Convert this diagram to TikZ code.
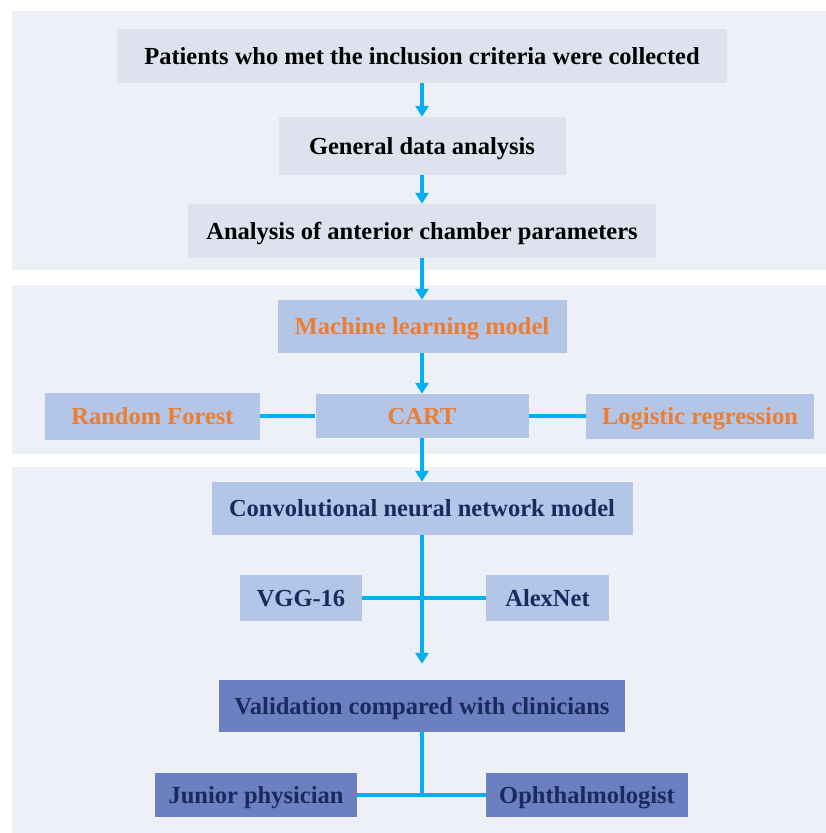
\documentclass[tikz,border=0pt]{standalone}
\usepackage{fontspec}
\setmainfont{Liberation Serif}
\usepackage{xcolor}
\usetikzlibrary{arrows.meta, positioning}

\definecolor{panelbg}{HTML}{EDF0F7}
\definecolor{paleblue}{HTML}{DEE2EF}
\definecolor{midblue}{HTML}{B4C6E7}
\definecolor{darkblue}{HTML}{6C7FC0}
\definecolor{navy}{HTML}{1B2A5E}
\definecolor{orangetxt}{HTML}{ED7D31}
\definecolor{arrowblue}{HTML}{00B0F0}

\begin{document}
\begin{tikzpicture}[x=1pt, y=-1pt,
            panel/.style={fill=panelbg, draw=none},
            box/.style={rectangle, draw=none, inner sep=0pt, align=center, text height=18pt, text depth=2pt, font=\fontsize{24.5}{28}\selectfont\bfseries},
            stepone/.style={box, fill=paleblue, text=black},
            steptwo/.style={box, fill=midblue, text=orangetxt},
            stepthree/.style={box, fill=midblue, text=navy},
            stepfour/.style={box, fill=darkblue, text=navy},
            flow/.style={draw=arrowblue, line width=3.5pt, -{Triangle[width=13pt,length=11pt]}},
            link/.style={draw=arrowblue, line width=3.5pt}
        ]
\useasboundingbox (0,0) rectangle (826,833);

% Panels
            \fill[panel] (12,11) rectangle (826,270);
            \fill[panel] (12,285) rectangle (826,454);
            \fill[panel] (12,467) rectangle (826,833);

% Data collection
            \node[stepone, minimum width=610, minimum height=54] (patients) at (422,56) {Patients who met the inclusion criteria were collected};
            \node[stepone, minimum width=287, minimum height=58] (general) at (422,146) {General data analysis};
            \node[stepone, minimum width=468, minimum height=54] (chamber) at (422,231) {Analysis of anterior chamber parameters};

% Machine learning
            \node[steptwo, minimum width=289, minimum height=53] (ml) at (422,326.5) {Machine learning model};
            \node[steptwo, minimum width=213, minimum height=44] (cart) at (422,416) {CART};
            \node[steptwo, minimum width=215, minimum height=47] (forest) at (152.5,416) {Random Forest};
            \node[steptwo, minimum width=228, minimum height=45] (logistic) at (700,416) {Logistic regression};

% Deep learning
            \node[stepthree, minimum width=421, minimum height=53] (cnn) at (422,508.5) {Convolutional neural network model};
            \node[stepthree, minimum width=122, minimum height=46] (vgg) at (301,598) {VGG-16};
            \node[stepthree, minimum width=123, minimum height=46] (alexnet) at (547.5,598) {AlexNet};

% Validation
            \node[stepfour, minimum width=406, minimum height=52] (valid) at (422,706) {Validation compared with clinicians};
            \node[stepfour, minimum width=202, minimum height=44] (junior) at (256,795) {Junior physician};
            \node[stepfour, minimum width=202, minimum height=44] (ophth) at (587,795) {Ophthalmologist};

% Arrows
            \draw[flow] (patients) -- (general);
            \draw[flow] (general) -- (chamber);
            \draw[flow] (chamber) -- (ml);
            \draw[flow] (ml) -- (cart);
            \draw[link] (forest) -- (cart);
            \draw[link] (cart) -- (logistic);
            \draw[flow] (cart) -- (cnn);
            \draw[link] (vgg) -- (alexnet);
            \draw[flow] (cnn.south) -- ([yshift=16pt]valid.north);
            \draw[link] (junior) -- (ophth);
            \draw[link] (valid.south) -- (valid.south |- junior.east);

        \end{tikzpicture}
\end{document}
